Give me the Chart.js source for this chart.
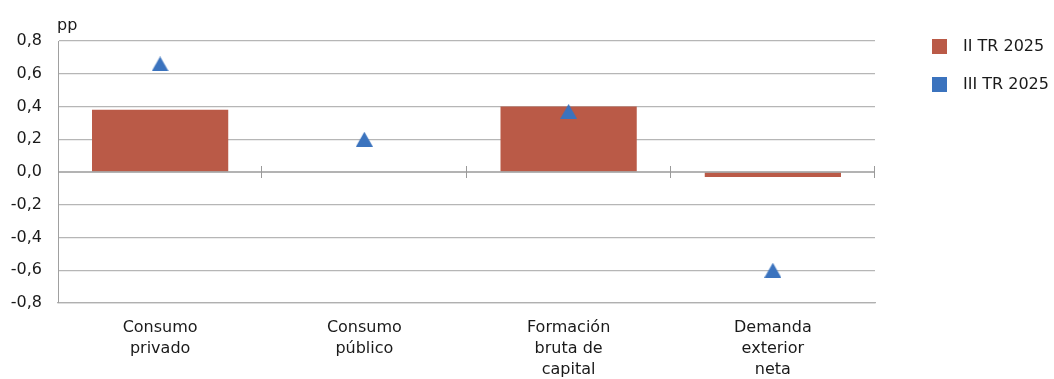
<!DOCTYPE html>
<html>
<head>
<meta charset="utf-8">
<script src="https://cdn.jsdelivr.net/npm/chart.js@4.4.1/dist/chart.umd.min.js"></script>
<style>
  html, body { margin: 0; padding: 0; background: #ffffff; }
  #wrap { position: relative; width: 1054px; height: 379px; }
  #chart { position: absolute; left: 0; top: 0; }
  .leg { position: absolute; left: 932px; height: 16px; font: 16px "DejaVu Sans", sans-serif; color: #1a1a1a; white-space: nowrap; }
  .leg span.sw { position: absolute; left: 0; top: 0; width: 15px; height: 15px; }
  .leg span.tx { position: absolute; left: 31px; top: -3px; line-height: 20px; }
</style>
</head>
<body>
<div id="wrap">
  <canvas id="chart" width="1054" height="379"></canvas>
  <div class="leg" style="top:39px"><span class="sw" id="sw0"></span><span class="tx" id="tx0"></span></div>
  <div class="leg" style="top:77px"><span class="sw" id="sw1"></span><span class="tx" id="tx1"></span></div>
</div>
<script>
// Contributions to GDP growth, percentage points
const categories = [
  ['Consumo', 'privado'],
  ['Consumo', 'público'],
  ['Formación', 'bruta de', 'capital'],
  ['Demanda', 'exterior', 'neta']
];
const seriesNames = ['II TR 2025', 'III TR 2025'];
const q2Values = [0.38, 0.00, 0.40, -0.03];
const q3Values = [0.66, 0.20, 0.37, -0.60];
const yTickValues = [-0.8, -0.6, -0.4, -0.2, 0.0, 0.2, 0.4, 0.6, 0.8];
const unitLabel = 'pp';

const RED = '#BA5A47';
const BLUE = '#3B73BE';
const FONT = '"DejaVu Sans", sans-serif';

// Legend swatches and text
document.getElementById('sw0').style.background = RED;
document.getElementById('sw1').style.background = BLUE;
document.getElementById('tx0').textContent = seriesNames[0];
document.getElementById('tx1').textContent = seriesNames[1];

// Triangle marker centred on its bounding box
const tri = document.createElement('canvas');
tri.width = 17; tri.height = 15;
(function () {
  const c = tri.getContext('2d');
  c.fillStyle = BLUE;
  c.beginPath();
  c.moveTo(8.5, 0);
  c.lineTo(17, 15);
  c.lineTo(0, 15);
  c.closePath();
  c.fill();
})();

// Zero line with category separators, plus the unit label
const axisDecor = {
  id: 'axisDecor',
  afterDatasetsDraw(chart) {
    const { ctx, chartArea, scales } = chart;
    const x = scales.x, y = scales.y;
    const y0 = y.getPixelForValue(0);
    ctx.save();
    ctx.strokeStyle = '#9a9a9a';
    ctx.lineWidth = 1.5;
    ctx.beginPath();
    ctx.moveTo(chartArea.left, y0);
    ctx.lineTo(chartArea.right, y0);
    ctx.stroke();
    ctx.lineWidth = 1;
    const n = categories.length;
    const w = (x.right - x.left) / n;
    for (let i = 1; i <= n; i++) {
      const bx = Math.round(x.left + w * i) - 0.5;
      ctx.beginPath();
      ctx.moveTo(bx, y0 - 6);
      ctx.lineTo(bx, y0 + 6);
      ctx.stroke();
    }
    ctx.fillStyle = '#1a1a1a';
    ctx.font = '16px ' + FONT;
    ctx.textAlign = 'left';
    ctx.textBaseline = 'middle';
    ctx.fillText(unitLabel, chartArea.left - 1, chartArea.top - 15);
    ctx.restore();
  }
};

new Chart(document.getElementById('chart'), {
  type: 'bar',
  data: {
    labels: categories,
    datasets: [
      {
        label: seriesNames[0],
        data: q2Values,
        backgroundColor: RED,
        borderWidth: 0,
        categoryPercentage: 1,
        barPercentage: 0.667,
        order: 2
      },
      {
        type: 'line',
        label: seriesNames[1],
        data: q3Values,
        showLine: false,
        pointStyle: tri,
        pointRadius: 9,
        backgroundColor: BLUE,
        borderColor: BLUE,
        order: 1
      }
    ]
  },
  options: {
    responsive: false,
    animation: false,
    devicePixelRatio: 1,
    layout: { padding: { top: 41, right: 179, left: 0, bottom: 0 } },
    plugins: { legend: { display: false }, tooltip: { enabled: false } },
    scales: {
      x: {
        offset: true,
        grid: { display: false, drawTicks: false },
        border: { display: true, color: '#b0b0b0', width: 1.3 },
        ticks: {
          color: '#1a1a1a',
          font: { family: FONT, size: 16, lineHeight: 1.32 },
          padding: 14,
          maxRotation: 0,
          autoSkip: false
        },
        afterFit(scale) { scale.height = 76; }
      },
      y: {
        min: -0.8,
        max: 0.8,
        afterBuildTicks(scale) { scale.ticks = yTickValues.map(v => ({ value: v })); },
        grid: {
          drawTicks: false,
          color: ctx => (ctx.tick && Math.abs(ctx.tick.value) < 1e-9) ? 'rgba(0,0,0,0)' : '#b6b6b6',
          lineWidth: 1.2
        },
        border: { display: true, color: '#a0a0a0', width: 1 },
        ticks: {
          color: '#1a1a1a',
          font: { family: FONT, size: 16 },
          padding: 16,
          callback: v => v.toFixed(1).replace('.', ',')
        },
        afterFit(scale) { scale.width = 58; }
      }
    }
  },
  plugins: [axisDecor]
});
</script>
</body>
</html>
